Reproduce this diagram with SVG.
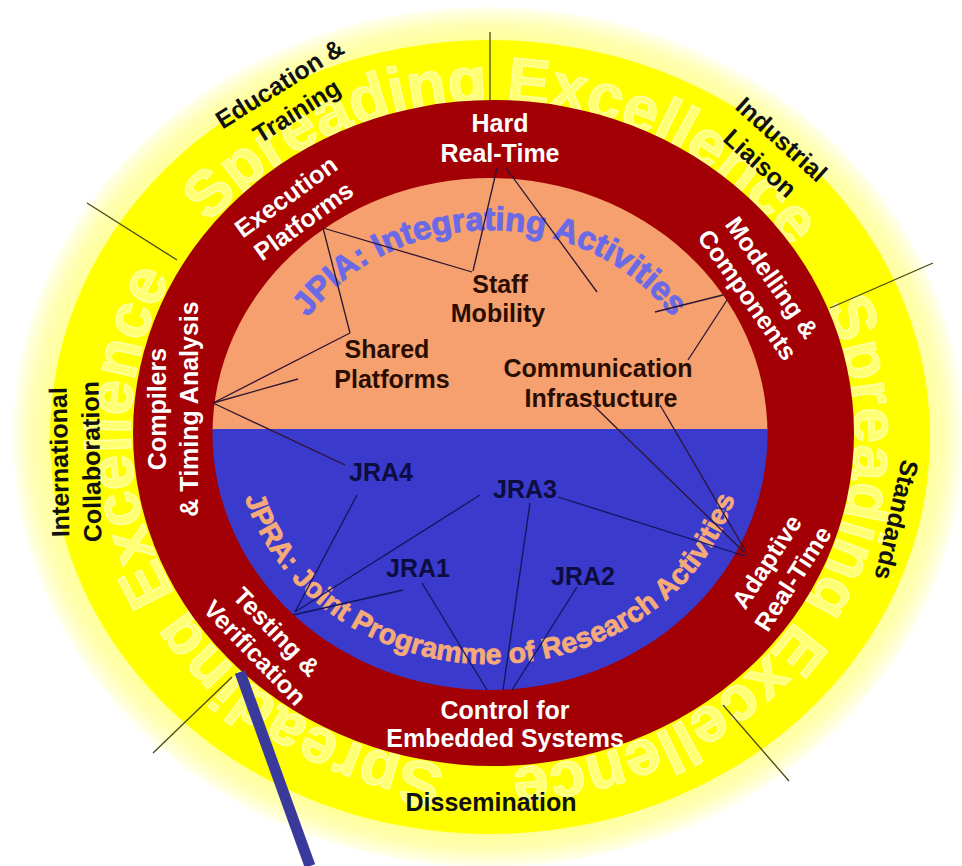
<svg xmlns="http://www.w3.org/2000/svg" width="962" height="866" viewBox="0 0 962 866">
<defs>
<radialGradient id="halo" cx="50%" cy="50%" r="50%">
<stop offset="0.9" stop-color="#ffff8c"/>
<stop offset="0.96" stop-color="#ffffb4"/>
<stop offset="1" stop-color="#fffff0"/>
</radialGradient>
<clipPath id="inner"><ellipse cx="490" cy="434" rx="277.5" ry="256"/></clipPath>
<path id="ghostPath" d="M209.1,223.6 A364,336 0 0 1 774.9,646.4 A364,336 0 0 1 209.1,223.6"/>
<path id="jpiaPath" d="M268,434 A222,204 0 0 1 712,434"/>
<path id="jpraPath" d="M235,434 A255,230 0 0 0 745,434"/>
</defs>
<style>
text{font-family:"Liberation Sans",Arial,sans-serif;font-weight:bold;text-anchor:middle}
textPath{font-weight:bold}
.w{fill:#ffffff;font-size:25px}
.k{fill:#111111;font-size:25px}
.o{fill:#2a0d00;font-size:25px}
.j{fill:#0d0d40;font-size:25px}
.ghost{fill:#ffffb0;fill-opacity:0.65;stroke:#ffffe8;stroke-opacity:0.55;stroke-width:1.5;font-size:64px;text-anchor:start}
.jpia{fill:#6a6ae6;stroke:#6a6ae6;stroke-width:1;font-size:33px;font-weight:bold}
.jpra{fill:#f5aa7a;stroke:#f5aa7a;stroke-width:0.8;font-size:28.5px;font-weight:bold}
.cl{stroke:#2b1530;stroke-width:1.3;fill:none}
.cb{stroke:#14145a;stroke-width:1.3;fill:none}
.cy{stroke:#4a4a10;stroke-width:1.3;fill:none}
</style>
<rect width="962" height="866" fill="#ffffff"/>
<g id="rings">
<ellipse cx="488" cy="437" rx="475" ry="430" fill="url(#halo)"/>
<ellipse cx="490" cy="437" rx="440" ry="397" fill="#ffff00"/>
<g id="ghost-text">
<text class="ghost"><textPath href="#ghostPath" startOffset="0%">Spreading Excellence</textPath></text>
<text class="ghost"><textPath href="#ghostPath" startOffset="33.333%">Spreading Excellence</textPath></text>
<text class="ghost"><textPath href="#ghostPath" startOffset="66.667%">Spreading Excellence</textPath></text>
</g>
<ellipse cx="493.5" cy="433" rx="360.5" ry="333" fill="#a20004"/>
<g clip-path="url(#inner)">
<rect x="200" y="170" width="580" height="260" fill="#f5a06e"/>
<rect x="200" y="429" width="580" height="270" fill="#3a3acd"/>
</g>
<text class="jpia"><textPath href="#jpiaPath" startOffset="50%">JPIA: Integrating Activities</textPath></text>
<text class="jpra"><textPath href="#jpraPath" startOffset="50%">JPRA: Joint Programme of Research Activities</textPath></text>
</g>
<g id="connectors">
<line class="cy" x1="490" y1="32" x2="490" y2="100"/>
<line class="cy" x1="87" y1="203" x2="177" y2="260"/>
<line class="cy" x1="933" y1="263" x2="830" y2="308"/>
<line class="cy" x1="153" y1="753" x2="232" y2="677"/>
<line class="cy" x1="723" y1="705" x2="789" y2="781"/>
<line class="cl" x1="497" y1="168" x2="473" y2="271"/>
<line class="cl" x1="506" y1="168" x2="597" y2="292"/>
<line class="cl" x1="323" y1="228" x2="472" y2="272"/>
<line class="cl" x1="323" y1="228" x2="350" y2="333"/>
<line class="cl" x1="213" y1="403" x2="350" y2="333"/>
<line class="cl" x1="213" y1="403" x2="298" y2="379"/>
<line class="cl" x1="213" y1="403" x2="345" y2="465"/>
<line class="cl" x1="723" y1="295" x2="655" y2="312"/>
<line class="cl" x1="727" y1="300" x2="688" y2="360"/>
<line class="cl" x1="593" y1="405" x2="745" y2="553"/>
<line class="cl" x1="660" y1="405" x2="745" y2="550"/>
<line class="cb" x1="558" y1="497" x2="745" y2="556"/>
<line class="cb" x1="530" y1="503" x2="503" y2="690"/>
<line class="cb" x1="480" y1="495" x2="295" y2="612"/>
<line class="cb" x1="357" y1="495" x2="295" y2="612"/>
<line class="cb" x1="403" y1="590" x2="293" y2="615"/>
<line class="cb" x1="422" y1="583" x2="487" y2="690"/>
<line class="cb" x1="577" y1="587" x2="512" y2="690"/>
<line x1="240" y1="672" x2="310" y2="866" stroke="#3a3a9c" stroke-width="11"/>
</g>
<g id="hard-real-time"><text class="w" x="500" y="132">Hard</text><text class="w" x="500" y="162">Real-Time</text></g>
<g id="execution-platforms" transform="translate(294.5,208.5) rotate(-36)"><text class="w" y="-6">Execution</text><text class="w" y="24">Platforms</text></g>
<g id="compilers" transform="translate(173,409) rotate(-90)"><text class="w" y="-7">Compilers</text><text class="w" y="25">&amp; Timing Analysis</text></g>
<g id="modelling-components" transform="translate(760,286) rotate(55)"><text class="w" y="-6">Modelling &amp;</text><text class="w" y="24">Components</text></g>
<g id="adaptive-real-time" transform="translate(779.5,570) rotate(-57)"><text class="w" y="-6.5">Adaptive</text><text class="w" y="24.5">Real-Time</text></g>
<g id="control-embedded"><text class="w" x="505" y="719">Control for</text><text class="w" x="505" y="747">Embedded Systems</text></g>
<g id="testing-verification" transform="translate(266,642) rotate(46)"><text class="w" y="-6">Testing &amp;</text><text class="w" y="24">Verification</text></g>
<g id="education-training" transform="translate(288,97) rotate(-32)"><text class="k" y="-7">Education &amp;</text><text class="k" y="25">Training</text></g>
<g id="industrial-liaison" transform="translate(771,151) rotate(42)"><text class="k" y="-7">Industrial</text><text class="k" y="25">Liaison</text></g>
<g id="standards" transform="translate(897,520) rotate(103)"><text class="k" y="9">Standards</text></g>
<g id="dissemination"><text class="k" x="491" y="811">Dissemination</text></g>
<g id="international-collaboration" transform="translate(75,462) rotate(-91)"><text class="k" y="-7">International</text><text class="k" y="25">Collaboration</text></g>
<g id="staff-mobility"><text class="o" x="500" y="293">Staff</text><text class="o" x="498" y="322">Mobility</text></g>
<g id="shared-platforms"><text class="o" x="387" y="358">Shared</text><text class="o" x="392" y="388">Platforms</text></g>
<g id="communication-infrastructure"><text class="o" x="598" y="377">Communication</text><text class="o" x="601" y="407">Infrastucture</text></g>
<g id="jra4"><text class="j" x="381" y="481">JRA4</text></g>
<g id="jra1"><text class="j" x="418" y="577">JRA1</text></g>
<g id="jra3"><text class="j" x="525" y="498">JRA3</text></g>
<g id="jra2"><text class="j" x="583" y="585">JRA2</text></g>
</svg>
